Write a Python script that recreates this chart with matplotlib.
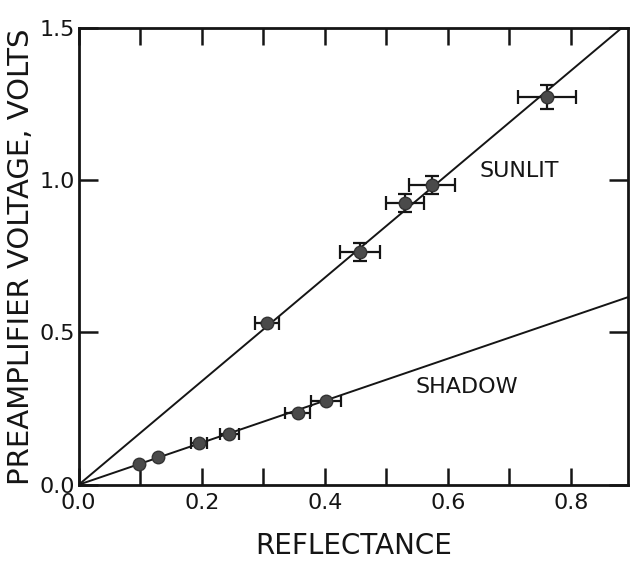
import matplotlib.pyplot as plt

# sunlit readings: reflectance, preamp voltage, errors
sun_x = [0.306, 0.457, 0.530, 0.574, 0.761]
sun_y = [0.532, 0.764, 0.925, 0.985, 1.274]
sun_xerr = [0.019, 0.032, 0.031, 0.037, 0.047]
sun_yerr = [0.0, 0.030, 0.030, 0.030, 0.040]

# shadow readings
sh_x = [0.098, 0.129, 0.195, 0.245, 0.356, 0.402]
sh_y = [0.069, 0.092, 0.138, 0.168, 0.237, 0.276]
sh_xerr = [0.0, 0.0, 0.013, 0.015, 0.020, 0.025]

# fitted slopes through the origin
sun_slope = 1.70
sh_slope = 0.69

x_max = 0.893
ink = '#151515'

plt.rcParams['font.family'] = 'DejaVu Sans'
fig = plt.figure(figsize=(6.3, 5.61), dpi=100)
ax = fig.add_axes([0.125, 0.136, 0.872, 0.814])

ax.plot([0, x_max], [0, sun_slope * x_max], color=ink, lw=1.4, zorder=2)
ax.plot([0, x_max], [0, sh_slope * x_max], color=ink, lw=1.4, zorder=2)

ax.errorbar(sun_x, sun_y, xerr=sun_xerr, yerr=sun_yerr, fmt='o', ms=9,
            color='#4a4a4a', mec='#333333', ecolor=ink, elinewidth=1.6,
            capsize=5, capthick=1.6, zorder=3)
ax.errorbar(sh_x, sh_y, xerr=sh_xerr, fmt='o', ms=9,
            color='#4a4a4a', mec='#333333', ecolor=ink, elinewidth=1.6,
            capsize=4, capthick=1.6, zorder=3)

ax.text(0.652, 1.03, 'SUNLIT', fontsize=16, color=ink, va='center')
ax.text(0.548, 0.322, 'SHADOW', fontsize=16, color=ink, va='center')

ax.set_xlim(0, x_max)
ax.set_ylim(0, 1.5)

ax.set_xticks([0.0, 0.2, 0.4, 0.6, 0.8])
ax.set_xticklabels(['0.0', '0.2', '0.4', '0.6', '0.8'])
ax.set_xticks([0.1, 0.3, 0.5, 0.7], minor=True)
ax.set_yticks([0.0, 0.5, 1.0, 1.5])
ax.set_yticklabels(['0.0', '0.5', '1.0', '1.5'])

ax.tick_params(axis='both', which='both', direction='in', top=True, right=True,
               width=1.8, color=ink, labelcolor=ink, labelsize=16)
ax.tick_params(axis='x', which='both', length=12, pad=6)
ax.tick_params(axis='y', which='both', length=14, pad=3)

for s in ax.spines.values():
    s.set_linewidth(2.0)
    s.set_color(ink)

ax.set_xlabel('REFLECTANCE', fontsize=20, color=ink, labelpad=14)
ax.set_ylabel('PREAMPLIFIER VOLTAGE, VOLTS', fontsize=21, color=ink, labelpad=3)

fig.savefig('out.png', dpi=100)
